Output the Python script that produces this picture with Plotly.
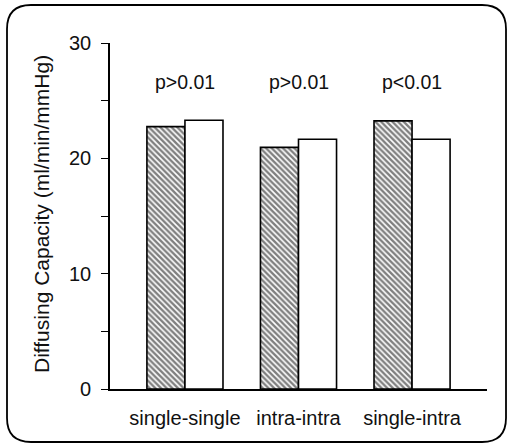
import plotly.graph_objects as go

categories = ["single-single", "intra-intra", "single-intra"]
hatched_vals = [22.75, 20.95, 23.25]
white_vals = [23.3, 21.65, 21.65]
p_labels = ["p>0.01", "p>0.01", "p<0.01"]
y_ticks = [0, 10, 20, 30]

FONT = "Liberation Sans, Arial, sans-serif"
xpos = list(range(len(categories)))

fig = go.Figure()
fig.add_trace(go.Bar(
    x=xpos, y=hatched_vals, name="A",
    marker=dict(color="white", line=dict(color="black", width=1.6),
                pattern=dict(shape="\\", size=4, solidity=0.6, fgcolor="black", bgcolor="white")),
))
fig.add_trace(go.Bar(
    x=xpos, y=white_vals, name="B",
    marker=dict(color="white", line=dict(color="black", width=1.6)),
))

for xi, lab in zip(xpos, p_labels):
    fig.add_annotation(x=xi, y=26.6, text=lab, showarrow=False, xref="x", yref="y",
                       font=dict(size=19.5, family=FONT, color="#111"))

# plot area in pixels
L, R, T, B = 110, 487, 43, 389
W, H = 510, 445
pw, ph = R - L, B - T

def px(x):
    return (x - L) / pw

def py(y):
    return (B - y) / ph

x0, x1, y0, y1, r = 7, 506, 5, 442, 24
path = (f"M {px(x0+r)},{py(y0)} L {px(x1-r)},{py(y0)} "
        f"Q {px(x1)},{py(y0)} {px(x1)},{py(y0+r)} "
        f"L {px(x1)},{py(y1-r)} Q {px(x1)},{py(y1)} {px(x1-r)},{py(y1)} "
        f"L {px(x0+r)},{py(y1)} Q {px(x0)},{py(y1)} {px(x0)},{py(y1-r)} "
        f"L {px(x0)},{py(y0+r)} Q {px(x0)},{py(y0)} {px(x0+r)},{py(y0)} Z")
fig.add_shape(type="path", path=path, xref="paper", yref="paper",
              line=dict(color="black", width=1.8), layer="above")

fig.update_layout(
    width=W, height=H,
    margin=dict(l=L, r=W - R, t=T, b=H - B),
    paper_bgcolor="white", plot_bgcolor="white",
    barmode="group", bargap=0.33, bargroupgap=0,
    showlegend=False,
    font=dict(family=FONT, color="#111"),
    xaxis=dict(range=[-0.66, 2.66], tickvals=xpos, ticktext=categories,
               showline=True, linecolor="black", linewidth=1.6, ticks="",
               showgrid=False, zeroline=False, ticklabelstandoff=10,
               tickfont=dict(size=20, family=FONT, color="#111")),
    yaxis=dict(range=[0, 30], tickvals=y_ticks, showline=True, linecolor="black",
               linewidth=1.6, ticks="outside", ticklen=7, tickcolor="black", tickwidth=1.4,
               minor=dict(tickvals=[5, 15, 25], ticks="outside", ticklen=7, tickcolor="black", tickwidth=1.4),
               showgrid=False, zeroline=False, ticklabelstandoff=6,
               tickfont=dict(size=20, family=FONT, color="#111")),
)
# y title as a rotated annotation to control position and size precisely
fig.add_annotation(text="Diffusing Capacity (ml/min/mmHg)", textangle=-90, showarrow=False,
                   xref="paper", yref="paper", x=px(42), y=py(214), xanchor="center", yanchor="middle",
                   font=dict(size=21, family=FONT, color="#111"))

fig.write_html("out.html")
